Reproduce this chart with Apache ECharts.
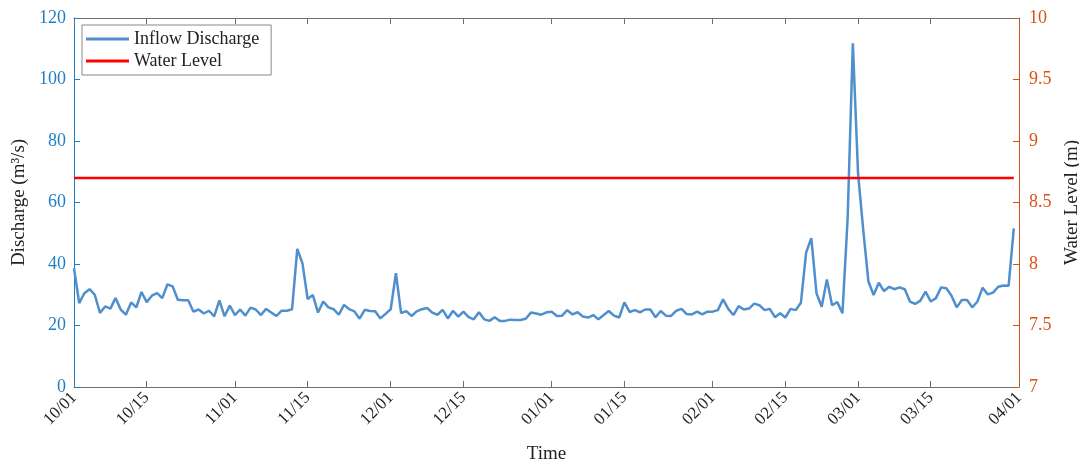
<!DOCTYPE html>
<html>
<head>
<meta charset="utf-8">
<script src="https://cdn.jsdelivr.net/npm/echarts@6/dist/echarts.min.js"></script>
<style>
  body { margin: 0; background: #fff; }
  #chart { width: 1079px; height: 467px; }
</style>
</head>
<body>
<div id="chart"></div>
<script>
// daily inflow discharge, 10/01 .. 03/31 (m3/s)
var inflow = [
  38.6, 27.3, 30.5, 31.8, 30.0, 24.1, 26.2, 25.5, 28.9, 25.2,
  23.5, 27.5, 25.9, 30.9, 27.6, 29.7, 30.5, 28.9, 33.4, 32.7,
  28.4, 28.2, 28.2, 24.5, 25.2, 23.9, 24.8, 23.0, 28.2, 23.0,
  26.5, 23.4, 25.2, 23.2, 25.8, 25.2, 23.4, 25.4, 24.2, 23.1,
  24.8, 24.8, 25.3, 44.9, 40.2, 28.6, 29.9, 24.2, 27.8, 25.9,
  25.3, 23.5, 26.7, 25.3, 24.6, 22.2, 25.1, 24.7, 24.6, 22.3,
  23.8, 25.3, 37.0, 24.0, 24.7, 23.1, 24.6, 25.3, 25.7, 24.2,
  23.5, 25.1, 22.3, 24.8, 22.9, 24.5, 22.7, 22.0, 24.3, 22.0,
  21.5, 22.7, 21.5, 21.5, 21.9, 21.8, 21.8, 22.2, 24.2, 23.9,
  23.5, 24.3, 24.5, 23.1, 23.2, 25.0, 23.6, 24.3, 22.9, 22.6,
  23.4, 22.0, 23.4, 24.7, 23.2, 22.6, 27.5, 24.4, 25.0, 24.3,
  25.2, 25.2, 22.7, 24.7, 23.2, 23.1, 24.8, 25.4, 23.7, 23.6,
  24.5, 23.6, 24.5, 24.5, 25.0, 28.5, 25.4, 23.4, 26.3, 25.2,
  25.5, 27.1, 26.6, 25.0, 25.4, 22.7, 24.0, 22.6, 25.4, 25.0,
  27.4, 43.7, 48.4, 30.5, 26.1, 35.0, 26.6, 27.6, 24.0, 54.9,
  111.8, 69.5, 51.1, 34.3, 29.9, 33.9, 31.2, 32.6, 31.8, 32.4,
  31.8, 27.8, 27.0, 28.1, 31.0, 27.8, 28.9, 32.4, 32.1, 29.7,
  25.9, 28.3, 28.3, 25.9, 27.8, 32.3, 30.1, 30.7, 32.6, 33.0,
  32.9, 51.6
];

// constant water level (m)
var waterLevel = 8.7;

var tickLabels = ['10/01','10/15','11/01','11/15','12/01','12/15','01/01',
                  '01/15','02/01','02/15','03/01','03/15','04/01'];

// one category per day, 10/01 to 04/01 (non-leap year)
var days = [];
var d = new Date(2018, 9, 1);
var end = new Date(2019, 3, 1);
while (d <= end) {
    var mm = ('0' + (d.getMonth() + 1)).slice(-2);
    var dd = ('0' + d.getDate()).slice(-2);
    days.push(mm + '/' + dd);
    d.setDate(d.getDate() + 1);
}

var isTick = function(index, value) {
    return tickLabels.indexOf(value) >= 0;
};

var font = 'Liberation Serif';
var blue = '#1f7fc4';
var orange = '#d95319';
var gray = '#6e6e6e';

var chart = echarts.init(document.getElementById('chart'));

var option = {
    animation: false,
    textStyle: { fontFamily: font },
    grid: { left: 74, right: 60, top: 18, bottom: 80, outerBoundsMode: 'none', containLabel: false },
    legend: {
        orient: 'vertical',
        left: 82,
        top: 25,
        itemGap: 4,
        itemWidth: 43,
        itemHeight: 3,
        padding: [5, 12, 5, 4],
        borderColor: '#888',
        borderWidth: 1,
        backgroundColor: '#fff',
        textStyle: { fontFamily: font, fontSize: 18, color: '#222' },
        data: [
            { name: 'Inflow Discharge', icon: 'rect' },
            { name: 'Water Level', icon: 'rect' }
        ]
    },
    xAxis: [
        {
            type: 'category',
            data: days,
            boundaryGap: false,
            name: 'Time',
            nameLocation: 'middle',
            nameGap: 58,
            nameTextStyle: { fontFamily: font, fontSize: 19, color: '#222' },
            axisLine: { lineStyle: { color: gray, width: 1 } },
            axisTick: { inside: true, length: 6, interval: isTick, lineStyle: { color: gray } },
            axisLabel: {
                interval: isTick,
                rotate: 45,
                showMinLabel: true,
                showMaxLabel: true,
                fontFamily: font,
                fontSize: 17,
                color: '#222',
                margin: 8
            },
            splitLine: { show: false }
        },
        {
            type: 'category',
            data: days,
            boundaryGap: false,
            position: 'top',
            axisLine: { lineStyle: { color: gray, width: 1 } },
            axisTick: { inside: true, length: 6, interval: isTick, lineStyle: { color: gray } },
            axisLabel: { show: false },
            splitLine: { show: false }
        }
    ],
    yAxis: [
        {
            type: 'value',
            min: 0,
            max: 120,
            interval: 20,
            name: 'Discharge (m³/s)',
            nameLocation: 'middle',
            nameGap: 43,
            nameTextStyle: { fontFamily: font, fontSize: 19, color: '#222' },
            axisLine: { show: true, lineStyle: { color: blue, width: 1 } },
            axisTick: { show: true, inside: true, length: 6, lineStyle: { color: blue } },
            axisLabel: { fontFamily: font, fontSize: 18, color: blue, margin: 8 },
            splitLine: { show: false }
        },
        {
            type: 'value',
            min: 7,
            max: 10,
            interval: 0.5,
            position: 'right',
            name: 'Water Level (m)',
            nameLocation: 'middle',
            nameGap: 38,
            nameRotate: 90,
            nameTextStyle: { fontFamily: font, fontSize: 19, color: '#222' },
            axisLine: { show: true, lineStyle: { color: orange, width: 1 } },
            axisTick: { show: true, inside: true, length: 6, lineStyle: { color: orange } },
            axisLabel: { fontFamily: font, fontSize: 18, color: orange, margin: 10 },
            splitLine: { show: false }
        }
    ],
    series: [
        {
            name: 'Inflow Discharge',
            type: 'line',
            xAxisIndex: 0,
            yAxisIndex: 0,
            data: inflow,
            showSymbol: false,
            color: '#4f8fcd',
            lineStyle: { color: '#4f8fcd', width: 2.5 }
        },
        {
            name: 'Water Level',
            type: 'line',
            xAxisIndex: 0,
            yAxisIndex: 1,
            data: [[days[0], waterLevel], [days[inflow.length - 1], waterLevel]],
            showSymbol: false,
            color: '#ff0000',
            lineStyle: { color: '#ff0000', width: 2.5 }
        }
    ]
};

chart.setOption(option);
</script>
</body>
</html>
